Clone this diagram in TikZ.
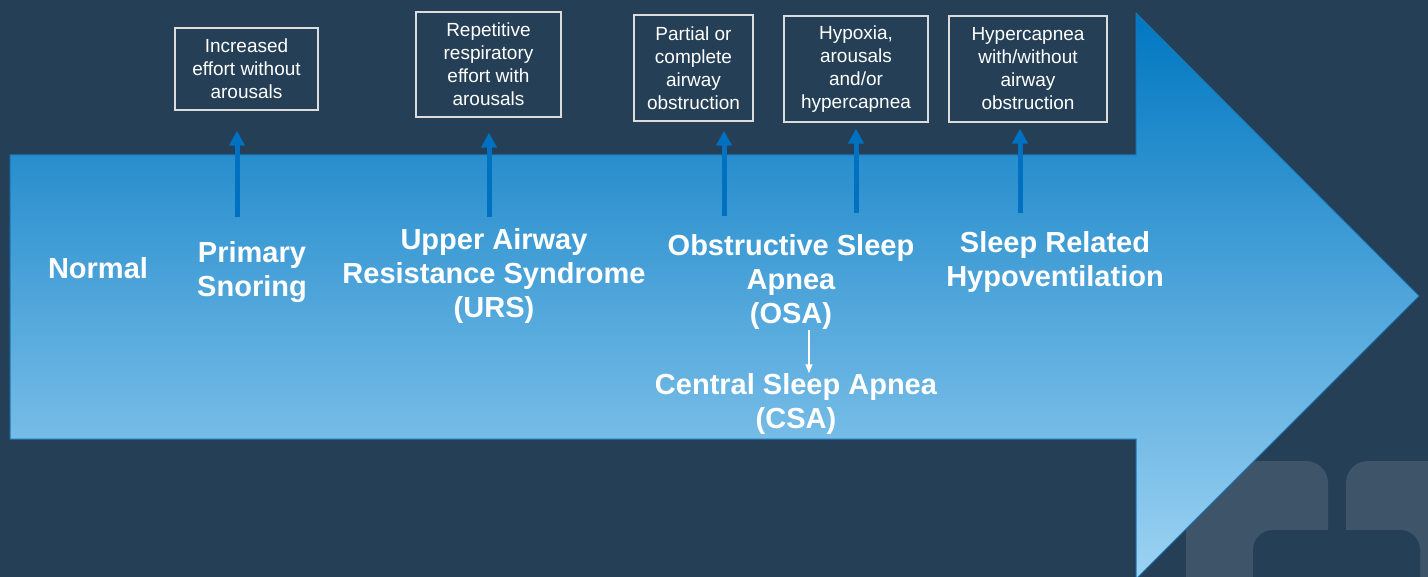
\documentclass[tikz,border=0pt]{standalone}
\usepackage{fontspec}
\setmainfont{Liberation Sans}
\usetikzlibrary{arrows.meta,calc}
\definecolor{bg}{RGB}{37,64,86}
\definecolor{wm}{RGB}{61,84,105}
\definecolor{atop}{RGB}{0,119,193}
\definecolor{abot}{RGB}{157,211,243}
\definecolor{aedge}{RGB}{25,118,185}
\definecolor{upblue}{RGB}{0,112,192}
\definecolor{boxline}{RGB}{220,220,220}
\begin{document}
\begin{tikzpicture}[x=1pt,y=-1pt,
  stage/.style={text=white,font=\fontsize{29}{34}\selectfont\bfseries,align=center,inner sep=0pt},
  infobox/.style={draw=boxline,line width=1.2pt,text=white,font=\fontsize{19}{23}\selectfont,align=center,inner sep=0pt},
  uparrow/.style={draw=upblue,line width=5pt,-{Triangle[width=15pt,length=15pt]}},
  downarrow/.style={draw=white,line width=1.3pt,-{Triangle[width=7pt,length=9pt]}}
]
\useasboundingbox (0,0) rectangle (1428,577);
\fill[bg] (0,0) rectangle (1428,577);
% watermark
\begin{scope}
\clip (0,0) rectangle (1428,577);
\fill[wm,rounded corners=22pt] (1186,620) -- (1186,461) -- (1328,461) -- (1328,620) -- cycle;
\fill[wm,rounded corners=22pt] (1346,620) -- (1346,461) -- (1470,461) -- (1470,620) -- cycle;
\fill[bg,rounded corners=20pt] (1253,620) -- (1253,530) -- (1420,530) -- (1420,620) -- cycle;
\end{scope}
% big arrow
\shade[top color=atop,bottom color=abot,draw=aedge,line width=1pt]
  (10,155) -- (1136,155) -- (1136,13) -- (1419,296) -- (1136,579) -- (1136,439) -- (10,439) -- cycle;
% stage labels
\node[stage] (normal) at (98,268) {Normal};
\node[stage] (ps) at (252,272) {Primary\\Snoring};
\node[stage] (urs) at (494,276) {Upper Airway\\Resistance Syndrome\\(URS)};
\node[stage] (osa) at (791,282) {Obstructive Sleep\\Apnea\\(OSA)};
\node[stage] (csa) at (796,404) {Central Sleep Apnea\\(CSA)};
\node[stage] (srh) at (1055,262) {Sleep Related\\Hypoventilation};
% info boxes
\node[infobox,minimum width=143pt,minimum height=82pt] (b1) at (246.5,69) {Increased\\effort without\\arousals};
\node[infobox,minimum width=145pt,minimum height=105pt] (b2) at (488.5,64.5) {Repetitive\\respiratory\\effort with\\arousals};
\node[infobox,minimum width=119pt,minimum height=106pt] (b3) at (693.5,68) {Partial or\\complete\\airway\\obstruction};
\node[infobox,minimum width=144pt,minimum height=106pt] (b4) at (856,69) {Hypoxia,\\arousals\\and/or\\hypercapnea};
\node[infobox,minimum width=158pt,minimum height=106pt] (b5) at (1028,69) {Hypercapnea\\with/without\\airway\\obstruction};
% up arrows
\coordinate (f1) at (237,217);
\coordinate (f2) at (489,217);
\coordinate (f3) at (724,216);
\coordinate (f4) at (856,213);
\coordinate (f5) at (1020,213);
\draw[uparrow,shorten >=20pt] (f1) -- (f1 |- b1.south);
\draw[uparrow,shorten >=15pt] (f2) -- (f2 |- b2.south);
\draw[uparrow,shorten >=9pt] (f3) -- (f3 |- b3.south);
\draw[uparrow,shorten >=6pt] (f4) -- (f4 |- b4.south);
\draw[uparrow,shorten >=6pt] (f5) -- (f5 |- b5.south);
% OSA -> CSA
\draw[downarrow] ([xshift=18pt]osa.south) -- ([xshift=18pt]osa.south |- csa.north);
\end{tikzpicture}
\end{document}
